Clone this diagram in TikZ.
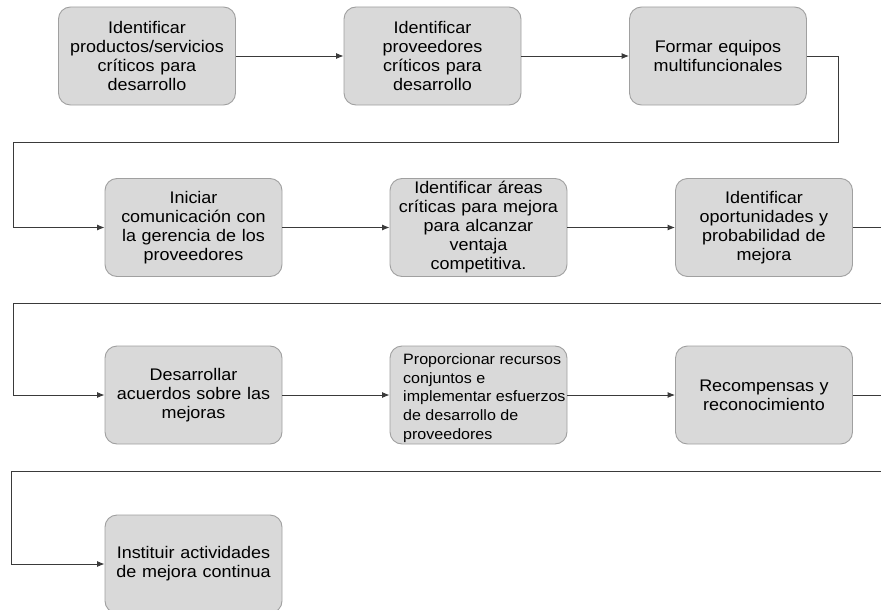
\documentclass[tikz,border=0pt]{standalone}
\usepackage{fontspec}
\setmainfont{Liberation Sans}[FakeStretch=1.07]
\usetikzlibrary{arrows.meta}
\definecolor{boxfill}{HTML}{D9D9D9}
\definecolor{boxline}{HTML}{A0A0A0}
\definecolor{connline}{HTML}{3A3A3A}
\begin{document}
\begin{tikzpicture}[x=1pt,y=-1pt,
  stepbox/.style={rectangle, rounded corners=12pt, fill=boxfill, draw=boxline, line width=0.9pt,
    minimum width=177pt, minimum height=98pt, inner sep=0pt, text width=170pt, align=center,
    font=\fontsize{16.8pt}{19pt}\selectfont},
  conn/.style={draw=connline, line width=0.9pt, -{Latex[length=7.5pt,width=6pt]}}]
\useasboundingbox (0,0) rectangle (881,610);
\clip (0,0) rectangle (881,610);
% row 1
\node[stepbox] (b1) at (147,56) {Identificar\\productos/servicios\\críticos para\\desarrollo};
\node[stepbox] (b2) at (432.5,56) {Identificar\\proveedores\\críticos para\\desarrollo};
\node[stepbox] (b3) at (718,56) {Formar equipos\\multifuncionales};
% row 2
\node[stepbox] (b4) at (193.5,227.5) {Iniciar\\comunicación con\\la gerencia de los\\proveedores};
\node[stepbox] (b5) at (478.5,227.5) {Identificar áreas\\críticas para mejora\\para alcanzar\\ventaja\\competitiva.};
\node[stepbox] (b6) at (764,227.5) {Identificar\\oportunidades y\\probabilidad de\\mejora};
% row 3
\node[stepbox] (b7) at (193.5,395) {Desarrollar\\acuerdos sobre las\\mejoras};
\node[stepbox] (b8) at (478.5,395) {};
\node[anchor=west, align=left, inner sep=0pt, font=\fontsize{15pt}{18.7pt}\selectfont] (b8t) at (403,398) {Proporcionar recursos\\conjuntos e\\implementar esfuerzos\\de desarrollo de\\proveedores};
\node[stepbox] (b9) at (764,395) {Recompensas y\\reconocimiento};
% row 4
\node[stepbox] (b10) at (193.5,564) {Instituir actividades\\de mejora continua};
% turning points
\coordinate (t1) at (838,142);
\coordinate (t2) at (13,142);
\coordinate (t3) at (895,303);
\coordinate (t4) at (13,303);
\coordinate (t5) at (895,471);
\coordinate (t6) at (11,471);
% connectors
\draw[conn] (b1.east) -- (b2.west);
\draw[conn] (b2.east) -- (b3.west);
\draw[conn] (b3.east) -| (t1) -- (t2) |- (b4.west);
\draw[conn] (b4.east) -- (b5.west);
\draw[conn] (b5.east) -- (b6.west);
\draw[conn] (b6.east) -| (t3) -- (t4) |- (b7.west);
\draw[conn] (b7.east) -- (b8.west);
\draw[conn] (b8.east) -- (b9.west);
\draw[conn] (b9.east) -| (t5) -- (t6) |- (b10.west);
\end{tikzpicture}
\end{document}
